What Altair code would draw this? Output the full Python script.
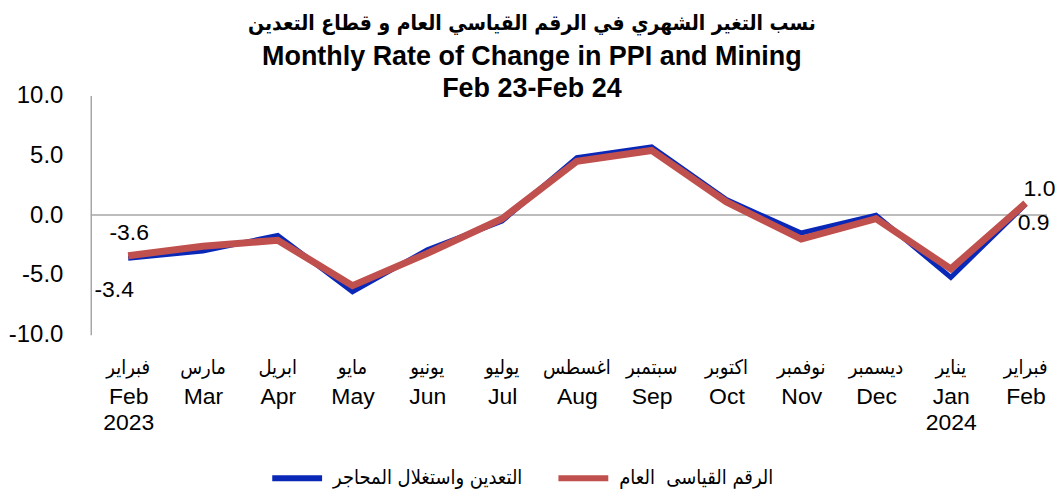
import altair as alt
import pandas as pd

months_en = ["Feb", "Mar", "Apr", "May", "Jun", "Jul", "Aug", "Sep", "Oct", "Nov", "Dec", "Jan", "Feb"]
months_ar = ["فبراير", "مارس", "ابريل", "مايو", "يونيو", "يوليو", "اغسطس", "سبتمبر", "اكتوبر", "نوفمبر", "ديسمبر", "يناير", "فبراير"]
years = ["2023"] * 11 + ["2024", "2024"]
year_shown = [True] + [False] * 10 + [True, False]

ppi = [-3.4, -2.6, -2.1, -5.9, -3.2, -0.3, 4.5, 5.4, 1.1, -2.0, -0.3, -4.5, 1.0]
mining = [-3.6, -3.0, -1.7, -6.4, -2.9, -0.5, 4.8, 5.7, 1.3, -1.5, 0.0, -5.2, 0.9]

name_ppi = "الرقم القياسى\u00a0 العام"
name_mining = "التعدين واستغلال المحاجر"

# data labels
label_idx = [0, 0, 12, 12]
label_text = ["-3.6", "-3.4", "1.0", "0.9"]
label_series = ["ppi", "mining", "ppi", "mining"]

title_ar = "نسب التغير الشهري في الرقم القياسي العام و قطاع التعدين"
title_en = ["Monthly Rate of Change in PPI and Mining", "Feb 23-Feb 24"]

keys = [f"{m} {y}" for m, y in zip(months_en, years)]

rows = []
for k, v in zip(keys, mining):
    rows.append({"key": k, "series": name_mining, "value": v})
for k, v in zip(keys, ppi):
    rows.append({"key": k, "series": name_ppi, "value": v})
df = pd.DataFrame(rows)

FONT = "Liberation Sans, Arial, DejaVu Sans, sans-serif"
AR_FONT = "DejaVu Sans Condensed, DejaVu Sans, sans-serif"
BLUE = "#0A28B8"
RED = "#C0504D"
GREY = "#A6A6A6"
W, H = 959, 240

shown = [k for k, s in zip(keys, year_shown) if s]
shown_js = "[" + ",".join(f"'{k}'" for k in shown) + "]"
label_expr = f"indexof({shown_js}, datum.value) >= 0 ? split(datum.value, ' ') : split(datum.value, ' ')[0]"

xscale = alt.Scale(type="point", domain=keys, range=[37.5, 937.5], padding=0)
yscale = alt.Scale(domain=[-10, 10], nice=False)

x_axis = alt.Axis(
    title=None, labelAngle=0, domain=False, ticks=False, labelFontSize=23,
    labelLineHeight=26, labelPadding=51, labelExpr=label_expr, labelColor="black",
    labelFont=FONT,
)
y_axis = alt.Axis(
    title=None, values=[-10, -5, 0, 5, 10], grid=False, ticks=False,
    domainColor=GREY, domainWidth=1.5, labelFontSize=24, labelPadding=28,
    labelColor="black", labelFont=FONT,
    labelExpr="replace(format(datum.value, '.1f'), '\u2212', '-')",
)


def X():
    return alt.X("key:N", scale=xscale, sort=keys, axis=x_axis)


def Y():
    return alt.Y("value:Q", scale=yscale, axis=y_axis)


color_enc = alt.Color(
    "series:N",
    scale=alt.Scale(domain=[name_mining, name_ppi], range=[BLUE, RED]),
    legend=alt.Legend(
        title=None, orient="none", legendX=179, legendY=356, direction="horizontal",
        symbolType="stroke", symbolSize=2500, symbolStrokeWidth=6, labelFontSize=20,
        labelFont=AR_FONT, labelColor="black", columnPadding=24, labelOffset=8,
        labelLimit=400,
    ),
)

zero = alt.Chart(pd.DataFrame({"value": [0]})).mark_rule(color=GREY, strokeWidth=1.5).encode(
    y=Y()
)

blue_line = alt.Chart(df).transform_filter(
    alt.datum.series == name_mining
).mark_line(strokeWidth=5).encode(x=X(), y=Y(), color=color_enc)

red_line = alt.Chart(df).transform_filter(
    alt.datum.series == name_ppi
).mark_line(strokeWidth=7).encode(x=X(), y=Y(), color=color_enc)

ar_df = pd.DataFrame({"key": keys, "ar": months_ar})
ar_labels = alt.Chart(ar_df).mark_text(
    fontSize=20, font=AR_FONT, color="black", baseline="middle"
).encode(
    x=X(),
    y=alt.value(H + 33),
    text="ar:N",
)

label_offsets = [(1, -23), (-14, 32), (14, -14), (8, 19)]
label_layers = []
for i, t, s, (dx, dy) in zip(label_idx, label_text, label_series, label_offsets):
    v = ppi[i] if s == "ppi" else mining[i]
    ldf = pd.DataFrame({"key": [keys[i]], "value": [v], "t": [t]})
    label_layers.append(
        alt.Chart(ldf).mark_text(
            fontSize=23, font=FONT, color="black", dx=dx, dy=dy, baseline="middle"
        ).encode(x=X(), y=Y(), text="t:N")
    )

chart = alt.layer(zero, blue_line, red_line, ar_labels, *label_layers).properties(
    width=W,
    height=H,
    padding={"left": 0, "top": 4, "right": 0, "bottom": 0},
    title=alt.TitleParams(
        text=title_ar, fontSize=21, fontWeight="bold", font=AR_FONT, color="black",
        subtitle=title_en, subtitleFontSize=27, subtitleFontWeight="bold",
        subtitleFont=FONT, subtitleColor="black", subtitleLineHeight=33,
        subtitlePadding=10, anchor="middle", frame="bounds", offset=-19,
    ),
).configure_view(stroke=None)

chart.save("out.html", embed_options={"renderer": "svg", "actions": False})
